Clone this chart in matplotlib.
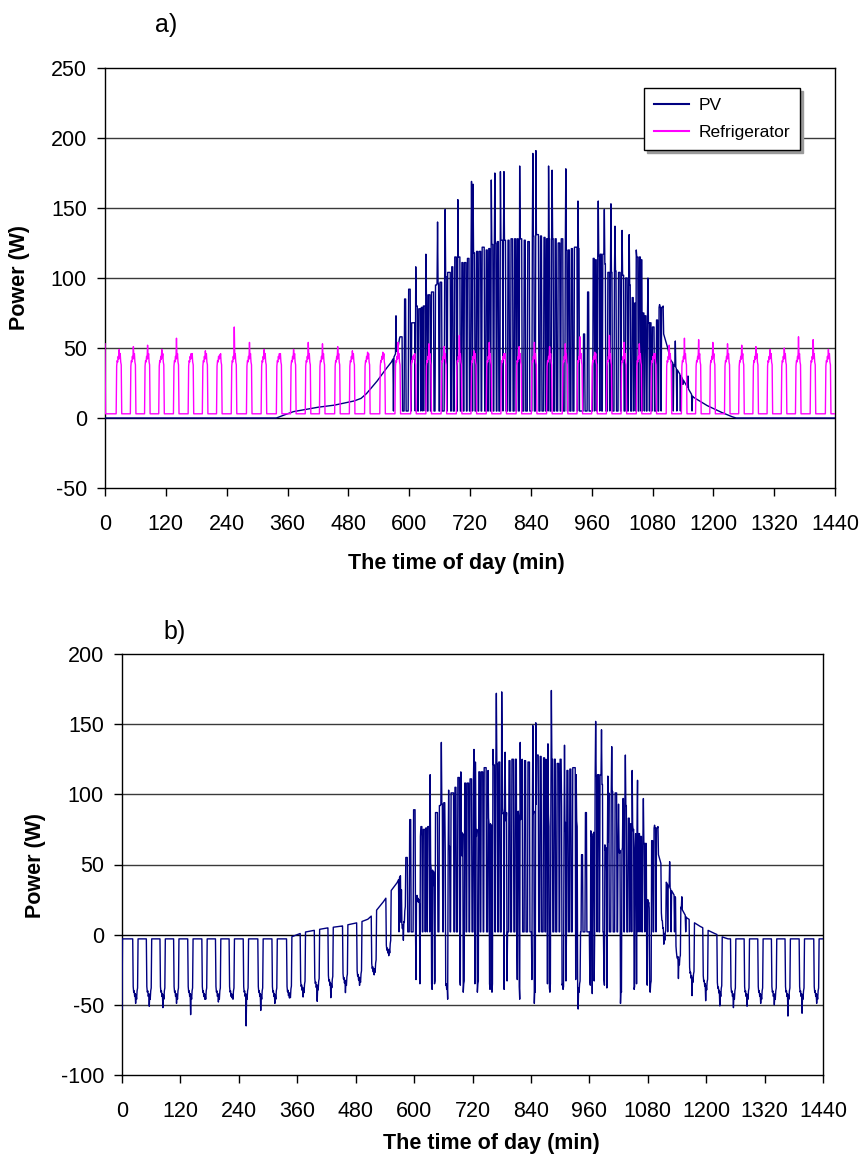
import numpy as np
import matplotlib
matplotlib.use("Agg")
import matplotlib.pyplot as plt

plt.rcParams['font.family'] = ['Liberation Sans', 'DejaVu Sans']
plt.rcParams['axes.unicode_minus'] = False

# ---------------- data ----------------
minutes = np.arange(0, 1441)

# refrigerator: start minute of each compressor run, and peak power of that run (W)
fridge_on_start = [0, 23, 51, 79, 107, 136, 165, 193, 221, 250, 280, 309, 339, 367, 396,
                   424, 454, 483, 513, 543, 573, 604, 634, 664, 694, 723, 753, 782, 812,
                   842, 872, 903, 932, 961, 990, 1019, 1049, 1078, 1108, 1138, 1166, 1194,
                   1223, 1251, 1279, 1307, 1335, 1363, 1392, 1422]
fridge_peak = [53, 49, 51, 52, 49, 57, 46, 48, 45, 65, 54, 49, 46, 49, 54, 53, 51, 48, 47, 47,
               54, 45, 53, 51, 59, 48, 54, 46, 51, 54, 51, 53, 58, 47, 59, 54, 53, 46, 52, 57,
               56, 54, 53, 52, 51, 49, 50, 58, 56, 49]
fridge_run_profile = [37, 41, 40, 44, 42, None, 43, 46, 40, 38]   # W per minute, None = peak
fridge_standby = 3.0

# PV: morning ramp (minute, W)
pv_am_t = [0, 338, 345, 371, 418, 450, 470, 490, 505, 516, 536, 552, 565, 572, 578, 581]
pv_am_w = [0, 0, 1, 4.5, 7.6, 9, 10.5, 12, 14, 17.5, 26, 34, 40, 45, 50, 57]
# PV: evening ramp (minute, W)
pv_pm_t = [1102, 1110, 1115, 1128, 1141, 1160, 1187, 1213, 1236, 1245, 1440]
pv_pm_w = [60, 50, 42, 35, 27, 15, 9, 4.5, 1, 0, 0]
pv_day_base = 5.0
# PV bursts during the day: start minute, end minute, level (W)
burst_start = [582, 591, 599, 605, 614, 619, 624, 628, 633, 638, 644, 652, 655, 661, 670, 676,
               684, 690, 696, 704, 709, 715, 722, 726, 733, 738, 744, 752, 757, 762, 768, 774,
               780, 786, 795, 801, 808, 813, 818, 827, 834, 843, 850, 859, 866, 871, 875, 881,
               888, 894, 900, 908, 914, 920, 926, 933, 944, 952, 963, 967, 972, 977, 982, 985,
               992, 997, 1005, 1013, 1019, 1027, 1033, 1040, 1044, 1048, 1054, 1058, 1061,
               1065, 1070, 1075, 1080, 1088, 1093, 1098]
burst_end = [586, 593, 602, 611, 616, 622, 626, 631, 635, 641, 648, 654, 658, 664, 673, 681,
             686, 693, 700, 706, 712, 718, 724, 729, 735, 741, 748, 754, 759, 765, 771, 776,
             784, 790, 797, 804, 810, 815, 822, 829, 837, 846, 855, 861, 868, 873, 877, 884,
             890, 897, 903, 911, 916, 922, 931, 935, 946, 954, 965, 969, 975, 979, 984, 987,
             995, 1000, 1008, 1016, 1023, 1030, 1036, 1042, 1046, 1051, 1056, 1059, 1063,
             1067, 1073, 1077, 1083, 1090, 1096, 1100]
burst_level = [58, 85, 92, 68, 80, 78, 79, 80, 88, 88, 90, 95, 96, 97, 101, 104,
               108, 115, 115, 111, 111, 114, 114, 118, 119, 119, 122, 120, 121, 124, 125, 126,
               127, 127, 127, 128, 128, 128, 128, 127, 126, 130, 131, 130, 129, 128, 128, 128,
               128, 125, 128, 120, 120, 121, 122, 121, 60, 90, 114, 113, 116, 117, 117, 110,
               104, 104, 105, 104, 102, 100, 95, 86, 82, 115, 115, 113, 75,
               73, 68, 68, 65, 70, 79, 79]
# PV single-minute spikes and dips (minute, W)
spike_t = [569, 574, 613, 633, 656, 671, 696, 723, 726, 762, 769, 780, 787, 818, 844, 850,
           875, 882, 909, 933, 973, 985, 998, 1006, 1020, 1034, 1048, 1071, 1094, 1101,
           1121, 1125, 1128, 1135, 1140, 1150, 1158]
spike_w = [5, 73, 108, 117, 140, 149, 156, 169, 167, 170, 175, 176, 176, 180, 189, 191,
           180, 177, 178, 155, 155, 149, 153, 137, 134, 131, 120, 100, 81, 80,
           5, 55, 5, 5, 24, 30, 5]

# axis settings
xticks = list(range(0, 1441, 120))
yticks_a = list(range(-50, 251, 50))
yticks_b = list(range(-100, 201, 50))

# ---------------- build series ----------------
fridge = np.full(minutes.shape, fridge_standby, dtype=float)
for k, (s, pk) in enumerate(zip(fridge_on_start, fridge_peak)):
    if k == 0:
        fridge[s] = pk
        continue
    for j, v in enumerate(fridge_run_profile):
        if s + j <= 1440:
            fridge[s + j] = pk if v is None else v

pv = np.full(minutes.shape, pv_day_base, dtype=float)
am = minutes <= pv_am_t[-1]
pv[am] = np.interp(minutes[am], pv_am_t, pv_am_w)
pm = minutes >= pv_pm_t[0]
pv[pm] = np.interp(minutes[pm], pv_pm_t, pv_pm_w)
for s, e, lv in zip(burst_start, burst_end, burst_level):
    pv[s:e + 1] = lv
for tt, w in zip(spike_t, spike_w):
    pv[tt] = w

net = pv - fridge

# ---------------- drawing ----------------
W, H = 865, 1162
fig = plt.figure(figsize=(W / 100, H / 100), dpi=100)

PV_COL = '#000080'
FR_COL = '#FF00FF'
GRID_COL = '#3a3a3a'


def style_axes(ax, yticks):
    ax.set_xlim(0, 1440)
    ax.set_ylim(yticks[0], yticks[-1])
    ax.set_xticks(xticks)
    ax.set_yticks(yticks)
    for y in yticks[1:-1]:
        ax.axhline(y, color='black' if y == 0 else GRID_COL, lw=1.0, zorder=1)
    for sp in ax.spines.values():
        sp.set_color('black')
        sp.set_linewidth(1.0)
    ax.tick_params(axis='both', direction='out', length=6, width=1.0,
                   labelsize=15.5, colors='black')
    ax.tick_params(axis='x', pad=13)
    ax.tick_params(axis='y', pad=7)


# panel a
ax1 = fig.add_axes([105 / W, 1 - 488 / H, 730 / W, 420 / H])
style_axes(ax1, yticks_a)
ax1.plot(minutes, pv, color=PV_COL, lw=1.0, label='PV', zorder=3)
ax1.plot(minutes, fridge, color=FR_COL, lw=1.0, label='Refrigerator', zorder=4)
leg = ax1.legend(loc='upper left', bbox_to_anchor=(0.727, 0.972), fontsize=12.5,
                 frameon=True, fancybox=False, shadow={'color': '#9a9a9a', 'alpha': 1.0, 'ox': 2, 'oy': -2},
                 handlelength=2.0, labelspacing=0.7, borderpad=0.55, handletextpad=0.6)
leg.get_frame().set_edgecolor('black')
leg.get_frame().set_linewidth(1.0)
for ln in leg.get_lines():
    ln.set_linewidth(1.5)

# panel b
ax2 = fig.add_axes([122 / W, 1 - 1075 / H, 701 / W, 421 / H])
style_axes(ax2, yticks_b)
ax2.plot(minutes, net, color=PV_COL, lw=1.0, zorder=3)

# labels
fig.text(166 / W, 1 - 25 / H, 'a)', fontsize=18, ha='center', va='center')
fig.text(175 / W, 1 - 632 / H, 'b)', fontsize=18, ha='center', va='center')
fig.text(456 / W, 1 - 563 / H, 'The time of day (min)', fontsize=15.5, weight='bold',
         ha='center', va='center')
fig.text(491 / W, 1 - 1143 / H, 'The time of day (min)', fontsize=15.5, weight='bold',
         ha='center', va='center')
fig.text(20 / W, 1 - 278 / H, 'Power (W)', fontsize=15.5, weight='bold', rotation=90,
         ha='center', va='center')
fig.text(36 / W, 1 - 865 / H, 'Power (W)', fontsize=15.5, weight='bold', rotation=90,
         ha='center', va='center')

fig.savefig('out.png', dpi=100, facecolor='white')
